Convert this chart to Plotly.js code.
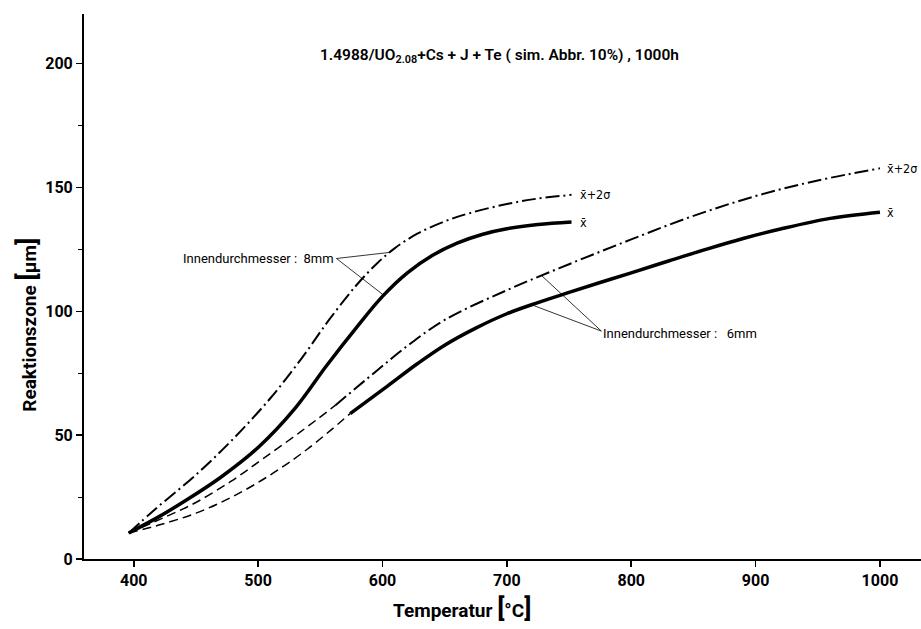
<!DOCTYPE html>
<html>
<head>
<meta charset="utf-8">
<script src="https://cdn.plot.ly/plotly-3.0.1.min.js"></script>
<style>
  html, body { margin: 0; padding: 0; background: #fff; }
  #chart { width: 921px; height: 629px; }
</style>
</head>
<body>
<div id="chart"></div>
<script>
// Reaction zone depth vs. temperature, 1.4988 cladding, 1000 h
// Inner diameter 8 mm: mean and mean + 2 sigma
const t8Sigma = [396, 417, 450, 480, 510, 535, 557, 579, 596, 610, 628, 650, 670, 700, 725, 752];
const z8Sigma = [10.5, 20, 34, 48.5, 65, 81, 96.5, 110.5, 119.5, 125.5, 131.3, 136.3, 139.6, 143.3, 145.5, 147];

const t8Mean = [396, 420, 443, 470, 500, 530, 555, 580, 600, 620, 640, 660, 680, 700, 725, 752];
const z8Mean = [10.5, 17, 24, 33, 45, 61, 78, 94, 106, 115.5, 122.5, 127.5, 131, 133.3, 135, 136];

// Inner diameter 6 mm: lower (extrapolated) part drawn dashed
const t6SigmaLow = [396, 421, 448, 478, 504, 534, 562];
const z6SigmaLow = [10.5, 16, 22.3, 31.3, 40.5, 51.3, 62];
const t6Sigma = [562, 593, 620, 650, 700, 750, 800, 850, 900, 950, 1000];
const z6Sigma = [62, 75, 86, 96.5, 108.5, 119, 129, 138.5, 146.5, 152.8, 157.7];

const t6MeanLow = [396, 421, 450, 480, 510, 540, 574];
const z6MeanLow = [10.5, 13.8, 18.5, 25.3, 34, 44.5, 58.7];
const t6Mean = [574, 604, 628, 650, 675, 700, 725, 750, 775, 800, 830, 860, 890, 920, 960, 1000];
const z6Mean = [58.7, 69.8, 78.8, 86.3, 93.2, 99, 103.5, 107.6, 111.6, 115.5, 120.3, 125, 129.4, 133.2, 137.5, 140];

// Axis ticks
const xTicks = [400, 500, 600, 700, 800, 900, 1000];
const yTicks = [0, 50, 100, 150, 200];

// Label texts
const titleText = '1.4988/UO<sub>2.08</sub>+Cs + J + Te ( sim. Abbr. 10%) , 1000h';
const label8 = 'Innendurchmesser :  8mm';
const label6 = 'Innendurchmesser :   6mm';
const meanLabel = 'x\u0304';
const sigmaLabel = 'x\u0304+2σ';

// linear interpolation along a curve, used to put leader lines onto the curves
function at(xs, ys, x) {
  for (let i = 1; i < xs.length; i++) {
    if (x <= xs[i]) {
      const f = (x - xs[i - 1]) / (xs[i] - xs[i - 1]);
      return ys[i - 1] + f * (ys[i] - ys[i - 1]);
    }
  }
  return ys[ys.length - 1];
}

const dashDot = '14px,4px,2px,4px';
const dashed = '9px,5px';

function curve(x, y, width, dash) {
  return {
    x: x, y: y, type: 'scatter', mode: 'lines',
    line: { color: '#000', width: width, dash: dash, shape: 'spline', smoothing: 1 },
    hoverinfo: 'skip', showlegend: false
  };
}

const data = [
  curve(t8Sigma, z8Sigma, 2, dashDot),
  curve(t8Mean, z8Mean, 3.5, 'solid'),
  curve(t6SigmaLow, z6SigmaLow, 1.5, dashed),
  curve(t6Sigma, z6Sigma, 2, dashDot),
  curve(t6MeanLow, z6MeanLow, 1.5, dashed),
  curve(t6Mean, z6Mean, 3.5, 'solid')
];

const txtFont = { family: 'Roboto, sans-serif', size: 13, color: '#000' };
const markFont = { family: '"DejaVu Sans Condensed", "DejaVu Sans", sans-serif', size: 12.5, color: '#000' };

// leader line origins next to the two diameter labels
const from8 = [563, 121.3];
const from6 = [776, 92];
const leaders = [
  [from8, 606, t8Sigma, z8Sigma],
  [from8, 601, t8Mean, z8Mean],
  [from6, 728, t6Sigma, z6Sigma],
  [from6, 720, t6Mean, z6Mean]
];
const shapes = leaders.map(([p, tx, xs, ys]) => ({
  type: 'line', xref: 'x', yref: 'y',
  x0: p[0], y0: p[1], x1: tx, y1: at(xs, ys, tx),
  line: { color: '#000', width: 0.8 }
}));

const annotations = [
  { xref: 'x', yref: 'y', x: 694, y: 203, text: titleText, showarrow: false,
    font: { family: 'Roboto, sans-serif', size: 15.5, color: '#000', weight: 600 } },
  { xref: 'x', yref: 'y', x: from8[0], y: from8[1], xanchor: 'right', yanchor: 'middle', text: label8,
    showarrow: false, font: txtFont },
  { xref: 'x', yref: 'y', x: from6[0], y: 91.2, xanchor: 'left', yanchor: 'middle', text: label6,
    showarrow: false, font: txtFont },
  { xref: 'x', yref: 'y', x: t8Sigma[t8Sigma.length - 1] + 5, y: z8Sigma[z8Sigma.length - 1],
    xanchor: 'left', yanchor: 'middle', text: sigmaLabel, showarrow: false, font: markFont },
  { xref: 'x', yref: 'y', x: t8Mean[t8Mean.length - 1] + 5, y: z8Mean[z8Mean.length - 1],
    xanchor: 'left', yanchor: 'middle', text: meanLabel, showarrow: false, font: markFont },
  { xref: 'x', yref: 'y', x: t6Sigma[t6Sigma.length - 1] + 4, y: z6Sigma[z6Sigma.length - 1],
    xanchor: 'left', yanchor: 'middle', text: sigmaLabel, showarrow: false, font: markFont },
  { xref: 'x', yref: 'y', x: t6Mean[t6Mean.length - 1] + 4, y: z6Mean[z6Mean.length - 1],
    xanchor: 'left', yanchor: 'middle', text: meanLabel, showarrow: false, font: markFont },
  // axis titles
  { xref: 'paper', yref: 'paper', x: 0.452, y: -0.09, xanchor: 'center', yanchor: 'middle', showarrow: false,
    text: 'Temperatur <span style="font-size:26px">[</span>°C<span style="font-size:26px">]</span>',
    font: { family: 'Roboto, sans-serif', size: 19, color: '#000', weight: 'bold' } },
  { xref: 'paper', yref: 'paper', x: -0.068, y: 0.43, xanchor: 'center', yanchor: 'middle',
    textangle: -90, showarrow: false,
    text: 'Reaktionszone <span style="font-size:26px">[</span>µm<span style="font-size:26px">]</span>',
    font: { family: 'Roboto, sans-serif', size: 19, color: '#000', weight: 'bold' } }
];

const tickFont = { family: 'Roboto, sans-serif', size: 16, color: '#000', weight: 'bold' };

const layout = {
  width: 921, height: 629,
  margin: { l: 84, r: 0, t: 14, b: 70 },
  paper_bgcolor: '#fff', plot_bgcolor: '#fff',
  showlegend: false,
  xaxis: {
    range: [360, 1033], tickvals: xTicks, ticktext: xTicks.map(String),
    ticks: 'outside', ticklen: 6, tickwidth: 1.5, tickcolor: '#000',
    showline: true, linecolor: '#000', linewidth: 2, showgrid: false, zeroline: false,
    tickfont: tickFont
  },
  yaxis: {
    range: [0, 220], tickvals: yTicks, ticktext: yTicks.map(String),
    ticks: 'outside', ticklen: 6, tickwidth: 1.5, tickcolor: '#000',
    minor: { dtick: 25, tick0: 0, ticks: 'outside', ticklen: 4, tickwidth: 1, tickcolor: '#000' },
    showline: true, linecolor: '#000', linewidth: 2, showgrid: false, zeroline: false,
    tickfont: tickFont
  },
  shapes: shapes,
  annotations: annotations
};

Plotly.newPlot('chart', data, layout, { staticPlot: true, displayModeBar: false });
</script>
</body>
</html>
